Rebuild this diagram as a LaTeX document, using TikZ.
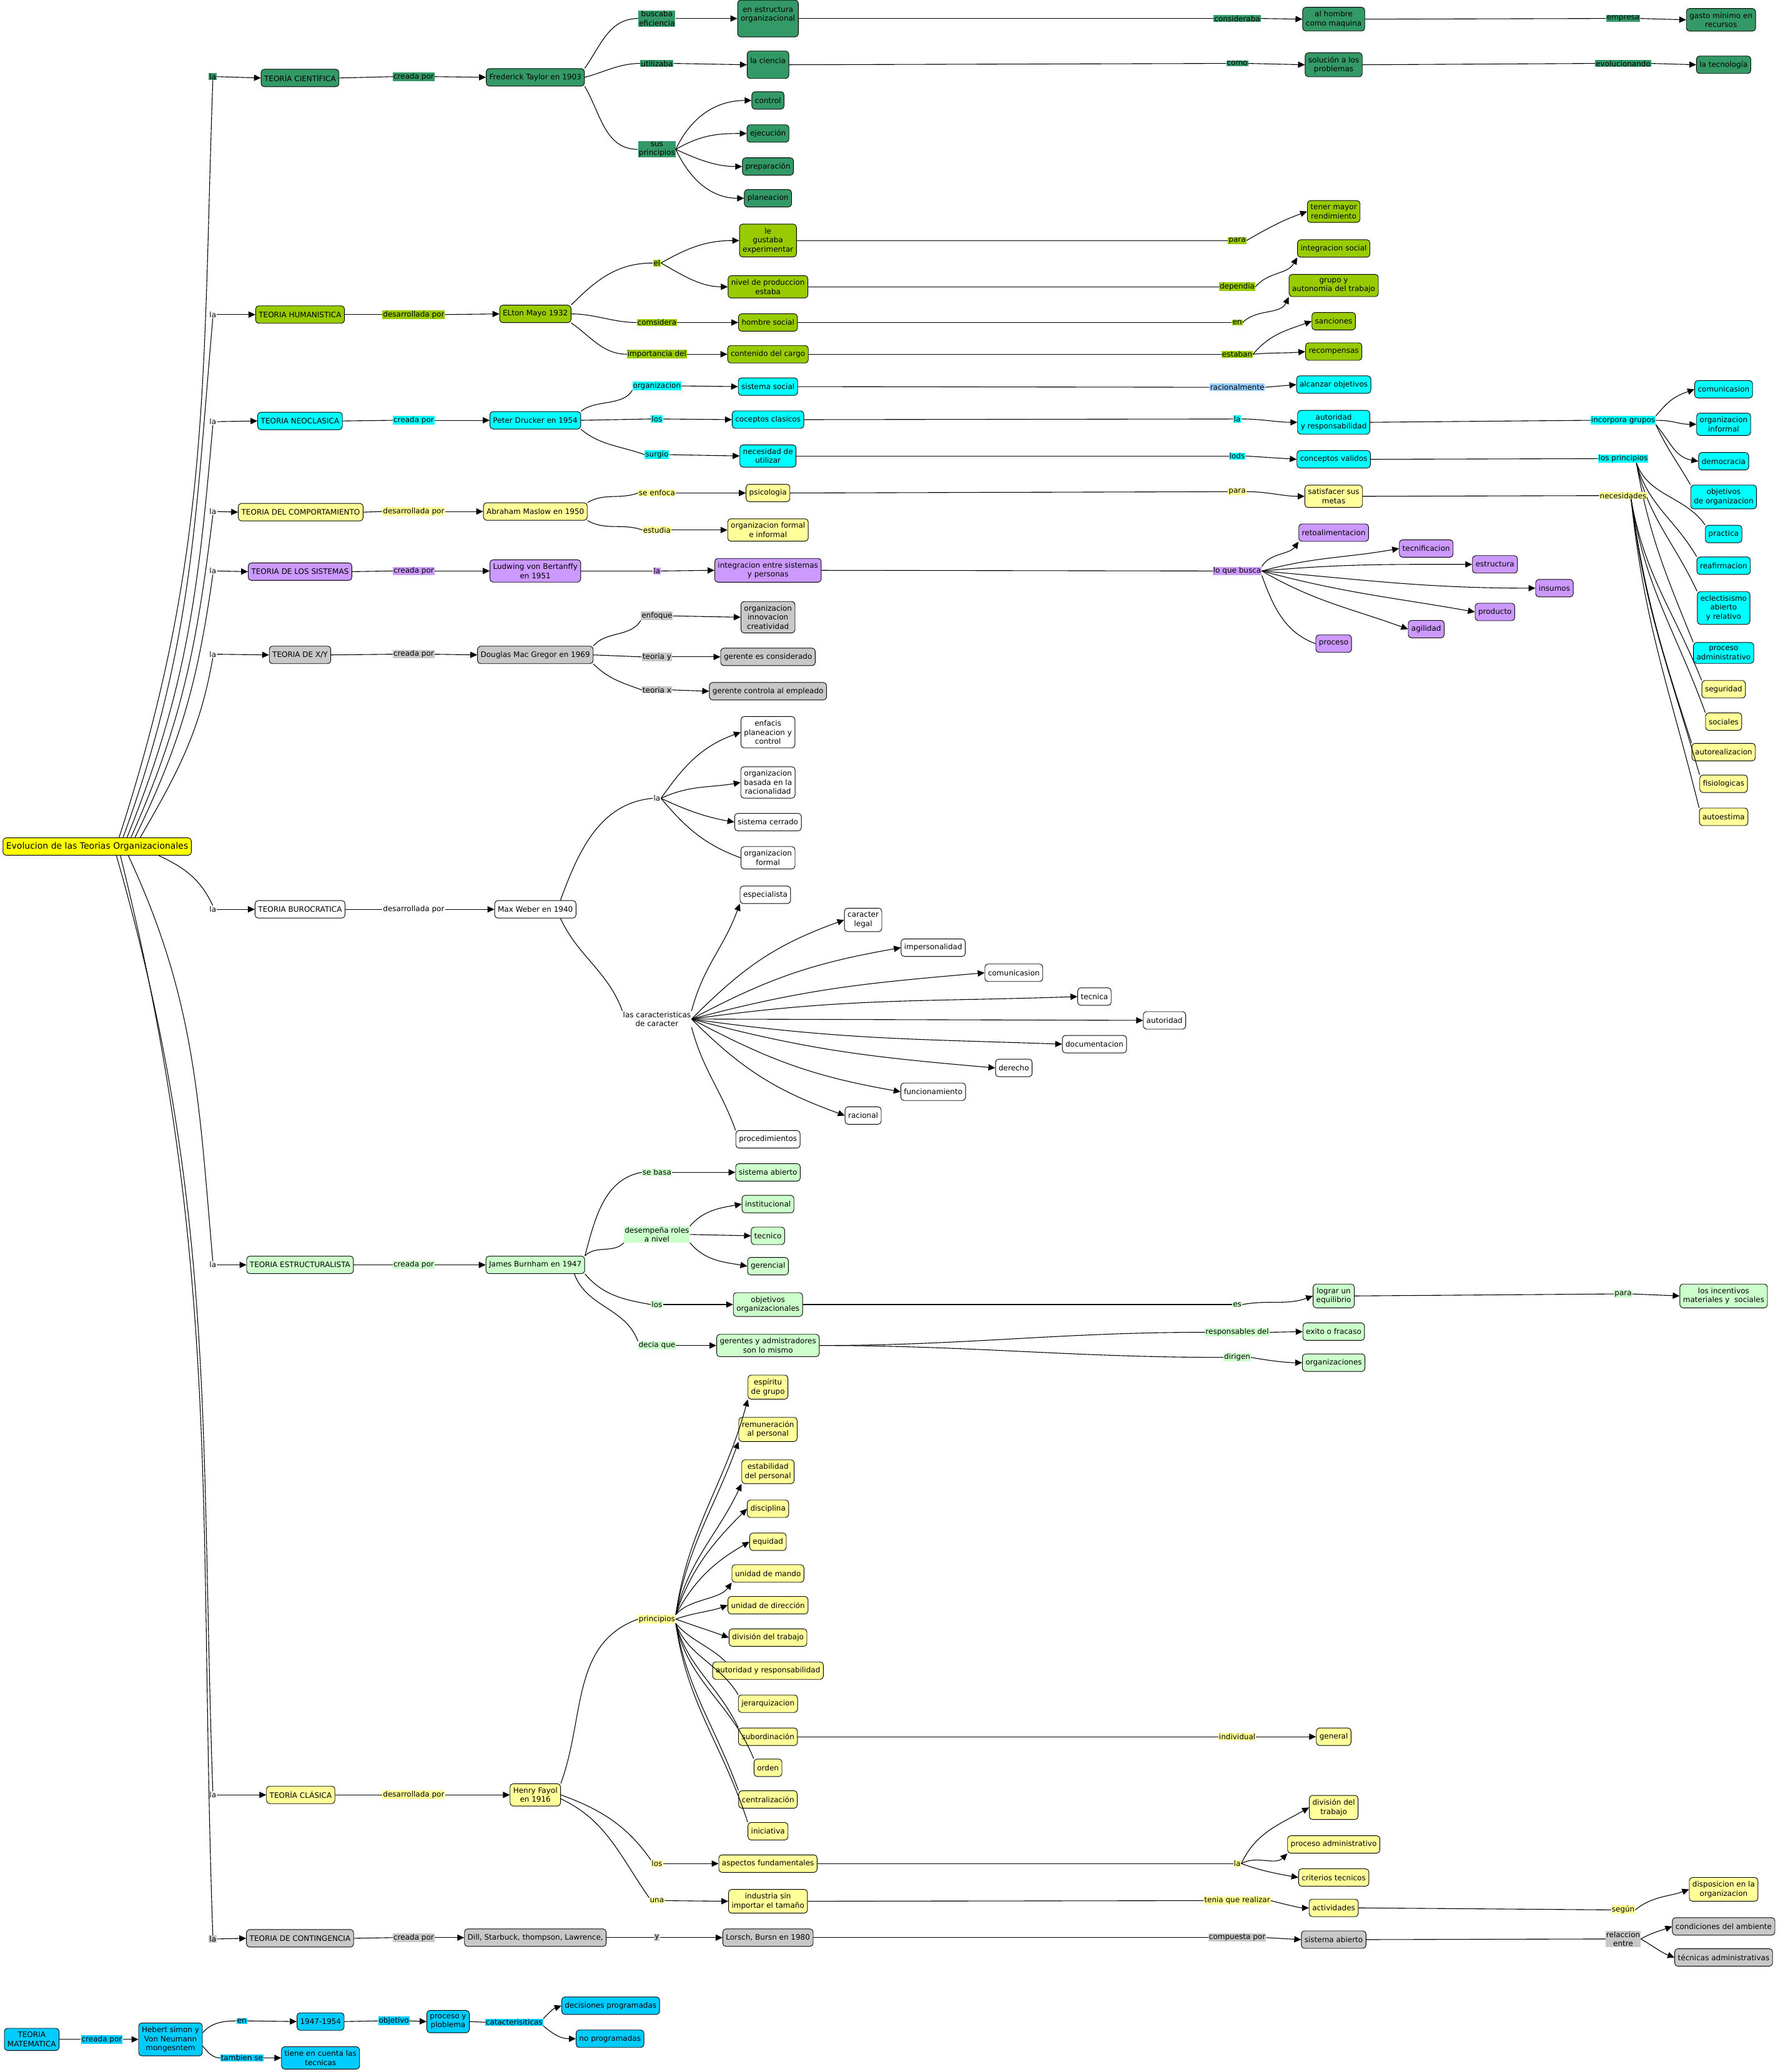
\documentclass[tikz,border=0pt]{standalone}
\usepackage{fontspec}
\setmainfont{DejaVu Sans}
\usetikzlibrary{arrows.meta,calc}
\definecolor{cG}{HTML}{339966}
\definecolor{cL}{HTML}{99CC00}
\definecolor{cC}{HTML}{00FFFF}
\definecolor{cY}{HTML}{FFFF99}
\definecolor{cP}{HTML}{CC99FF}
\definecolor{cGr}{HTML}{C8C8C8}
\definecolor{cLG}{HTML}{CCFFCC}
\definecolor{cRoot}{HTML}{FFFF00}
\definecolor{cB}{HTML}{00CCFF}
\definecolor{cLB}{HTML}{99CCFF}
\newcommand\mapfont{\fontsize{12}{14.5}\selectfont}
\newcommand\rootfont{\fontsize{14}{16}\selectfont}
\begin{document}
\begin{tikzpicture}[x=2.1165pt,y=2.1165pt,
  every node/.style={font=\mapfont},
  bx/.style={draw=black, line width=0.9pt, rounded corners=5pt, inner xsep=5pt, inner ysep=6pt, minimum height=28pt, align=center, fill=white},
  lb/.style={inner xsep=1pt, inner ysep=1pt, align=center},
  cn/.style={line width=1.1pt},
  ca/.style={line width=1.1pt, -{Triangle[length=11pt,width=10pt]}},
  cv/.style n args={3}{to path={.. controls +(#1:#3) and +(#2:#3) .. (\tikztotarget)}}]
\useasboundingbox (0,0) rectangle (1345.14,-1567.68);

% root
\node[bx,fill=cRoot,font=\rootfont] (root) at (73.5,-640.5) {Evolucion de las Teorias Organizacionales};

% ===== Cientifica
\node[lb,fill=cG] (la1) at (161,-58) {la};
\node[bx,fill=cG] (tc) at (227,-59) {TEORÍA CIENTÍFICA};
\node[lb,fill=cG] (tc1) at (313,-58) {creada por};
\node[bx,fill=cG] (ft) at (405,-58.5) {Frederick Taylor en 1903};
\node[lb,fill=cG] (tc2) at (497,-14) {buscaba\\eficiencia};
\node[bx,fill=cG,minimum height=59pt] (tc3) at (581,-14) {en estructura\\organizacional\\\mbox{}};
\node[lb,fill=cG] (tc4) at (497,-48) {utilizaba};
\node[bx,fill=cG,minimum height=44pt] (tc5) at (581,-49) {la ciencia\\\mbox{}};
\node[lb,fill=cG] (tc6) at (497,-113) {sus\\principios};
\node[bx,fill=cG] (tc7) at (581,-76) {control};
\node[bx,fill=cG] (tc8) at (581,-101) {ejecución};
\node[bx,fill=cG] (tc9) at (581,-126) {preparación};
\node[bx,fill=cG] (tc10) at (581,-150) {planeacion};
\node[lb,fill=cG] (tc11) at (936,-14) {consideraba};
\node[bx,fill=cG] (tc12) at (1009,-14.5) {al hombre\\como maquina};
\node[lb,fill=cG] (tc13) at (1228,-14) {empresa};
\node[bx,fill=cG] (tc14) at (1302,-15) {gasto mínimo en\\recursos};
\node[lb,fill=cG] (tc15) at (936,-48) {como};
\node[bx,fill=cG] (tc16) at (1009,-49) {solución a los\\problemas};
\node[lb,fill=cG] (tc17) at (1228,-48) {evolucionando};
\node[bx,fill=cG] (tc18) at (1304,-49) {la tecnología};

\draw[cn] ($(root.north west)+(88,0)$) to[cv={72}{-92}{226}] (la1.south);
\draw[ca] (la1.east) -- (tc.west);
\draw[cn] (tc.east) -- (tc1.west);
\draw[ca] (tc1.east) -- (ft.west);
\draw[cn] (ft.north east) to[cv={55}{180}{22}] (tc2.west);
\draw[cn] (ft.east) to[cv={15}{180}{16}] (tc4.west);
\draw[cn] (ft.south east) to[cv={-60}{180}{25}] (tc6.west);
\draw[ca] (tc2.east) -- (tc3.west);
\draw[ca] (tc4.east) -- (tc5.west);
\draw[ca] (tc6.east) to[cv={65}{180}{27}] (tc7.west);
\draw[ca] (tc6.east) to[cv={30}{180}{22}] (tc8.west);
\draw[ca] (tc6.east) to[cv={-25}{180}{19}] (tc9.west);
\draw[ca] (tc6.east) to[cv={-65}{180}{25}] (tc10.west);
\draw[cn] (tc3.east) -- (tc11.west);
\draw[ca] (tc11.east) -- (tc12.west);
\draw[cn] (tc12.east) -- (tc13.west);
\draw[ca] (tc13.east) -- (tc14.west);
\draw[cn] (tc5.east) -- (tc15.west);
\draw[ca] (tc15.east) -- (tc16.west);
\draw[cn] (tc16.east) -- (tc17.west);
\draw[ca] (tc17.east) -- (tc18.west);

% ===== Humanistica
\node[lb] (la2) at (161,-238) {la};
\node[bx,fill=cL] (th) at (227,-238) {TEORIA HUMANISTICA};
\node[lb,fill=cL] (th1) at (313,-238) {desarrollada por};
\node[bx,fill=cL] (em) at (405,-237.5) {ELton Mayo 1932};
\node[lb,fill=cL] (th2) at (497,-199) {el};
\node[bx,fill=cL] (th3) at (581,-182) {le\\gustaba\\experimentar};
\node[bx,fill=cL] (th4) at (581,-217) {nivel de produccion\\estaba};
\node[lb,fill=cL] (th5) at (497,-244) {comsidera};
\node[bx,fill=cL] (th6) at (581,-244) {hombre social};
\node[lb,fill=cL] (th7) at (497,-268) {importancia del};
\node[bx,fill=cL] (th8) at (581,-268) {contenido del cargo};
\node[lb,fill=cL] (th9) at (936,-182) {para};
\node[bx,fill=cL] (th10) at (1009,-160) {tener mayor\\rendimiento};
\node[lb,fill=cL] (th11) at (936,-217) {dependia};
\node[bx,fill=cL] (th12) at (1009,-188) {integracion social};
\node[lb,fill=cL] (th13) at (936,-244) {en};
\node[bx,fill=cL] (th14) at (1009,-216) {grupo y\\autonomia del trabajo};
\node[lb,fill=cL] (th15) at (936,-268) {estaban};
\node[bx,fill=cL] (th16) at (1009,-243) {sanciones};
\node[bx,fill=cL] (th17) at (1009,-266) {recompensas};

\draw[cn] ($(root.north west)+(91,0)$) to[cv={70}{-95}{154}] (la2.south);
\draw[ca] (la2.east) -- (th.west);
\draw[cn] (th.east) -- (th1.west);
\draw[ca] (th1.east) -- (em.west);
\draw[cn] (em.north east) to[cv={45}{180}{27}] (th2.west);
\draw[cn] (em.east) to[cv={0}{180}{18}] (th5.west);
\draw[cn] (em.south east) to[cv={-35}{180}{18}] (th7.west);
\draw[ca] (th2.east) to[cv={30}{180}{24}] (th3.west);
\draw[ca] (th2.east) to[cv={-30}{180}{20}] (th4.west);
\draw[ca] (th5.east) -- (th6.west);
\draw[ca] (th7.east) -- (th8.west);
\draw[cn] (th3.east) -- (th9.west);
\draw[ca] (th9.east) to[cv={30}{200}{20}] (th10.west);
\draw[cn] (th4.east) -- (th11.west);
\draw[ca] (th11.east) to[cv={50}{-120}{15}] (th12.south west);
\draw[cn] (th6.east) -- (th13.west);
\draw[ca] (th13.east) to[cv={45}{-115}{15}] (th14.south west);
\draw[cn] (th8.east) -- (th15.west);
\draw[ca] (th15.east) to[cv={50}{200}{20}] (th16.west);
\draw[ca] (th15.east) to[cv={5}{185}{16}] (th17.west);

% ===== Neoclasica
\node[lb] (la3) at (161,-319) {la};
\node[bx,fill=cC] (tn) at (227,-318.5) {TEORIA NEOCLASICA};
\node[lb,fill=cC] (tn1) at (313,-318) {creada por};
\node[bx,fill=cC] (pd) at (405,-318) {Peter Drucker en 1954};
\node[lb,fill=cC] (tn2) at (497,-292) {organizacion};
\node[bx,fill=cC] (tn3) at (581,-292.5) {sistema social};
\node[lb,fill=cC] (tn4) at (497,-317) {los};
\node[bx,fill=cC] (tn5) at (581,-317.5) {coceptos clasicos};
\node[lb,fill=cC] (tn6) at (497,-344) {surgio};
\node[bx,fill=cC] (tn7) at (581,-345) {necesidad de\\utilizar};
\node[lb,fill=cLB] (tn8) at (936,-293) {racionalmente};
\node[bx,fill=cC] (tn9) at (1009,-291) {alcanzar objetivos};
\node[lb,fill=cC] (tn10) at (936,-317) {la};
\node[bx,fill=cC] (tn11) at (1009,-319.5) {autoridad\\y responsabilidad};
\node[lb,fill=cC] (tn12) at (936,-345) {lods};
\node[bx,fill=cC] (tn13) at (1009,-347.5) {conceptos validos};
\node[lb,fill=cC] (tn14) at (1228,-318) {incorpora grupos};
\node[bx,fill=cC] (tn15) at (1304,-294.5) {comunicasion};
\node[bx,fill=cC] (tn16) at (1304,-321) {organizacion\\informal};
\node[bx,fill=cC] (tn17) at (1304,-349) {democracia};
\node[bx,fill=cC] (tn18) at (1304,-376) {objetivos\\de organizacion};
\node[lb,fill=cC] (tn19) at (1228,-347) {los principios};
\node[bx,fill=cC] (tn20) at (1304,-404) {practica};
\node[bx,fill=cC] (tn21) at (1304,-428) {reafirmacion};
\node[bx,fill=cC] (tn22) at (1304,-460) {eclectisismo\\abierto\\y relativo};
\node[bx,fill=cC] (tn23) at (1304,-494) {proceso\\administrativo};

\draw[cn] ($(root.north west)+(94,0)$) to[cv={68}{-95}{123}] (la3.south);
\draw[ca] (la3.east) -- (tn.west);
\draw[cn] (tn.east) -- (tn1.west);
\draw[ca] (tn1.east) -- (pd.west);
\draw[cn] (pd.north east) to[cv={40}{-120}{14}] (tn2.south west);
\draw[cn] (pd.east) -- (tn4.west);
\draw[cn] (pd.south east) to[cv={-40}{160}{19}] (tn6.west);
\draw[ca] (tn2.east) -- (tn3.west);
\draw[ca] (tn4.east) -- (tn5.west);
\draw[ca] (tn6.east) -- (tn7.west);
\draw[cn] (tn3.east) -- (tn8.west);
\draw[ca] (tn8.east) -- (tn9.west);
\draw[cn] (tn5.east) -- (tn10.west);
\draw[ca] (tn10.east) to[cv={0}{180}{16}] (tn11.west);
\draw[cn] (tn7.east) -- (tn12.west);
\draw[ca] (tn12.east) -- (tn13.west);
\draw[cn] (tn11.east) -- (tn14.west);
\draw[ca] (tn14.north east) to[cv={50}{200}{16}] (tn15.west);
\draw[ca] (tn14.east) to[cv={0}{180}{14}] (tn16.west);
\draw[ca] (tn14.south east) to[cv={-50}{170}{18}] (tn17.west);
\draw[cn] (tn14.south east) to[cv={-65}{120}{21}] (tn18.north west);
\draw[cn] (tn13.east) -- (tn19.west);
\draw[cn] ($(tn19.south)+(10,0)$) to[cv={-70}{125}{27}] (tn20.north west);
\draw[cn] ($(tn19.south)+(10,0)$) to[cv={-75}{120}{33}] (tn21.north west);
\draw[cn] ($(tn19.south)+(10,0)$) to[cv={-78}{115}{42}] (tn22.north west);
\draw[cn] ($(tn19.south)+(10,0)$) to[cv={-80}{112}{56}] (tn23.north west);

% ===== Comportamiento
\node[lb] (la4) at (161,-387) {la};
\node[bx,fill=cY] (tb) at (227.5,-387.5) {TEORIA DEL COMPORTAMIENTO};
\node[lb,fill=cY] (tb1) at (313,-387) {desarrollada por};
\node[bx,fill=cY] (am) at (405,-387) {Abraham Maslow en 1950};
\node[lb,fill=cY] (tb2) at (497,-373) {se enfoca};
\node[bx,fill=cY] (tb3) at (581,-373) {psicologia};
\node[lb,fill=cY] (tb4) at (497,-401) {estudia};
\node[bx,fill=cY] (tb5) at (581,-401) {organizacion formal\\e informal};
\node[lb,fill=cY] (tb6) at (936,-372) {para};
\node[bx,fill=cY] (tb7) at (1009,-375.5) {satisfacer sus\\metas};
\node[lb,fill=cY] (tb8) at (1228,-375) {necesidades};
\node[bx,fill=cY] (tb9) at (1304,-521.5) {seguridad};
\node[bx,fill=cY] (tb10) at (1304,-546) {sociales};
\node[bx,fill=cY] (tb11) at (1304,-569) {autorealizacion};
\node[bx,fill=cY] (tb12) at (1304,-593) {fisiologicas};
\node[bx,fill=cY] (tb13) at (1304,-618) {autoestima};

\draw[cn] ($(root.north west)+(97,0)$) to[cv={66}{-97}{97}] (la4.south);
\draw[ca] (la4.east) -- (tb.west);
\draw[cn] (tb.east) -- (tb1.west);
\draw[ca] (tb1.east) -- (am.west);
\draw[cn] (am.north east) to[cv={30}{200}{15}] (tb2.west);
\draw[cn] (am.south east) to[cv={-30}{160}{16}] (tb4.west);
\draw[ca] (tb2.east) -- (tb3.west);
\draw[ca] (tb4.east) -- (tb5.west);
\draw[cn] (tb3.east) -- (tb6.west);
\draw[ca] (tb6.east) to[cv={0}{180}{17}] (tb7.west);
\draw[cn] (tb7.east) -- (tb8.west);
\draw[cn] ($(tb8.south)+(6,0)$) to[cv={-80}{112}{58}] (tb9.north west);
\draw[cn] ($(tb8.south)+(6,0)$) to[cv={-81}{110}{68}] (tb10.north west);
\draw[cn] ($(tb8.south)+(6,0)$) to[cv={-82}{108}{75}] (tb11.north west);
\draw[cn] ($(tb8.south)+(6,0)$) to[cv={-83}{106}{85}] (tb12.north west);
\draw[cn] ($(tb8.south)+(6,0)$) to[cv={-84}{104}{95}] (tb13.north west);

% ===== Sistemas
\node[lb] (la5) at (161,-432) {la};
\node[bx,fill=cP] (ts) at (227,-432.5) {TEORIA DE LOS SISTEMAS};
\node[lb,fill=cP] (ts1) at (313,-432) {creada por};
\node[bx,fill=cP] (lv) at (405,-432) {Ludwing von Bertanffy\\en 1951};
\node[lb,fill=cP] (ts2) at (497,-432) {la};
\node[bx,fill=cP] (ts3) at (581,-431.5) {integracion entre sistemas\\y personas};
\node[lb,fill=cP] (ts4) at (936,-432) {lo que busca};
\node[bx,fill=cP] (ts5) at (1009,-403) {retoalimentacion};
\node[bx,fill=cP] (ts6) at (1079,-415) {tecnificacion};
\node[bx,fill=cP] (ts7) at (1131,-427) {estructura};
\node[bx,fill=cP] (ts8) at (1176,-445) {insumos};
\node[bx,fill=cP] (ts9) at (1131,-463) {producto};
\node[bx,fill=cP] (ts10) at (1079,-476) {agilidad};
\node[bx,fill=cP] (ts11) at (1009,-487) {proceso};

\draw[cn] ($(root.north west)+(100,0)$) to[cv={64}{-98}{80}] (la5.south);
\draw[ca] (la5.east) -- (ts.west);
\draw[cn] (ts.east) -- (ts1.west);
\draw[ca] (ts1.east) -- (lv.west);
\draw[cn] (lv.east) -- (ts2.west);
\draw[ca] (ts2.east) -- (ts3.west);
\draw[cn] (ts3.east) -- (ts4.west);
\draw[ca] (ts4.north east) to[cv={60}{-125}{12}] (ts5.south west);
\draw[ca] (ts4.east) to[cv={15}{190}{42}] (ts6.west);
\draw[ca] (ts4.east) to[cv={5}{180}{63}] (ts7.west);
\draw[ca] (ts4.east) to[cv={-5}{180}{82}] (ts8.west);
\draw[ca] (ts4.east) to[cv={-15}{170}{65}] (ts9.west);
\draw[ca] (ts4.east) to[cv={-30}{160}{47}] (ts10.west);
\draw[cn] (ts4.south east) to[cv={-70}{160}{25}] (ts11.west);

% ===== X/Y
\node[lb] (la6) at (161,-495) {la};
\node[bx,fill=cGr] (tx) at (227,-495.5) {TEORIA DE X/Y};
\node[lb,fill=cGr] (tx1) at (313,-495) {creada por};
\node[bx,fill=cGr] (dm) at (405,-495.5) {Douglas Mac Gregor en 1969};
\node[lb,fill=cGr] (tx2) at (497,-466) {enfoque};
\node[bx,fill=cGr] (tx3) at (581,-467) {organizacion\\innovacion\\creatividad};
\node[lb,fill=cGr] (tx4) at (497,-497) {teoria y};
\node[bx,fill=cGr] (tx5) at (581,-497) {gerente es considerado};
\node[lb,fill=cGr] (tx6) at (497,-522) {teoria x};
\node[bx,fill=cGr] (tx7) at (581,-523) {gerente controla al empleado};

\draw[cn] ($(root.north west)+(104,0)$) to[cv={60}{-100}{57}] (la6.south);
\draw[ca] (la6.east) -- (tx.west);
\draw[cn] (tx.east) -- (tx1.west);
\draw[ca] (tx1.east) -- (dm.west);
\draw[cn] (dm.north east) to[cv={50}{-120}{15}] (tx2.south west);
\draw[cn] (dm.east) -- (tx4.west);
\draw[cn] (dm.south east) to[cv={-45}{160}{16}] (tx6.west);
\draw[ca] (tx2.east) -- (tx3.west);
\draw[ca] (tx4.east) -- (tx5.west);
\draw[ca] (tx6.east) -- (tx7.west);

% ===== Burocratica
\node[lb] (la7) at (161,-688) {la};
\node[bx] (tu) at (227,-688) {TEORIA BUROCRATICA};
\node[lb] (tu1) at (313,-688) {desarrollada por};
\node[bx] (mw) at (405,-688) {Max Weber en 1940};
\node[lb] (tu2) at (497,-604) {la};
\node[bx] (tu3) at (581,-554) {enfacis\\planeacion y\\control};
\node[bx] (tu4) at (581,-592) {organizacion\\basada en la\\racionalidad};
\node[bx] (tu5) at (581,-622) {sistema cerrado};
\node[bx] (tu6) at (581,-649) {organizacion\\formal};
\node[lb] (tu7) at (497,-771) {las caracteristicas\\de caracter};
\node[bx] (tu8) at (579,-677) {especialista};
\node[bx] (tu9) at (653,-696) {caracter\\legal};
\node[bx] (tu10) at (706,-717) {impersonalidad};
\node[bx] (tu11) at (767,-736) {comunicasion};
\node[bx] (tu12) at (828,-754) {tecnica};
\node[bx] (tu13) at (881,-772) {autoridad};
\node[bx] (tu14) at (828,-790) {documentacion};
\node[bx] (tu15) at (767,-808) {derecho};
\node[bx] (tu16) at (706,-826) {funcionamiento};
\node[bx] (tu17) at (653,-844) {racional};
\node[bx] (tu18) at (581,-862) {procedimientos};

\draw[cn] ($(root.south west)+(118,0)$) to[cv={-25}{115}{22}] (la7.north);
\draw[ca] (la7.east) -- (tu.west);
\draw[cn] (tu.east) -- (tu1.west);
\draw[ca] (tu1.east) -- (mw.west);
\draw[cn] ($(mw.north east)+(-12,0)$) to[cv={70}{185}{40}] (tu2.west);
\draw[cn] ($(mw.south east)+(-12,0)$) to[cv={-65}{110}{32}] (tu7.north west);
\draw[ca] (tu2.east) to[cv={55}{200}{31}] (tu3.west);
\draw[ca] (tu2.east) to[cv={25}{190}{24}] (tu4.west);
\draw[ca] (tu2.east) to[cv={-25}{170}{22}] (tu5.west);
\draw[cn] (tu2.east) to[cv={-50}{160}{29}] (tu6.west);
\draw[ca] (tu7.north east) to[cv={75}{-110}{36}] (tu8.south west);
\draw[ca] (tu7.east) to[cv={45}{200}{56}] (tu9.west);
\draw[ca] (tu7.east) to[cv={28}{190}{67}] (tu10.west);
\draw[ca] (tu7.east) to[cv={15}{185}{90}] (tu11.west);
\draw[ca] (tu7.east) to[cv={8}{182}{117}] (tu12.west);
\draw[ca] (tu7.east) -- (tu13.west);
\draw[ca] (tu7.east) to[cv={-8}{178}{112}] (tu14.west);
\draw[ca] (tu7.east) to[cv={-15}{175}{93}] (tu15.west);
\draw[ca] (tu7.east) to[cv={-28}{170}{67}] (tu16.west);
\draw[ca] (tu7.east) to[cv={-45}{160}{55}] (tu17.west);
\draw[cn] (tu7.south east) to[cv={-75}{110}{34}] (tu18.north west);

% ===== Estructuralista
\node[lb] (la8) at (161,-957) {la};
\node[bx,fill=cLG] (te) at (227,-957) {TEORIA ESTRUCTURALISTA};
\node[lb,fill=cLG] (te1) at (313,-957) {creada por};
\node[bx,fill=cLG] (jb) at (405,-957) {James Burnham en 1947};
\node[lb,fill=cLG] (te2) at (497,-887) {se basa};
\node[bx,fill=cLG] (te3) at (581,-887) {sistema abierto};
\node[lb,fill=cLG] (te4) at (497,-934) {desempeña roles\\a nivel};
\node[bx,fill=cLG] (te5) at (581,-911) {institucional};
\node[bx,fill=cLG] (te6) at (581,-935) {tecnico};
\node[bx,fill=cLG] (te7) at (581,-958) {gerencial};
\node[lb,fill=cLG] (te8) at (497,-987) {los};
\node[bx,fill=cLG] (te9) at (581,-987) {objetivos\\organizacionales};
\node[lb,fill=cLG] (te10) at (497,-1018) {decia que};
\node[bx,fill=cLG] (te11) at (581,-1018) {gerentes y admistradores\\son lo mismo};
\node[lb,fill=cLG] (te12) at (936,-987) {es};
\node[bx,fill=cLG] (te13) at (1009,-980.5) {lograr un\\equilibrio};
\node[lb,fill=cLG] (te14) at (1228,-979) {para};
\node[bx,fill=cLG] (te15) at (1304,-980.5) {los incentivos\\materiales y\ \ sociales};
\node[lb,fill=cLG] (te16) at (936,-1008) {responsables del};
\node[bx,fill=cLG] (te17) at (1009,-1007.5) {exito o fracaso};
\node[lb,fill=cLG] (te18) at (936,-1027) {dirigen};
\node[bx,fill=cLG] (te19) at (1009,-1031) {organizaciones};

\draw[cn] ($(root.south west)+(95,0)$) to[cv={-65}{95}{121}] (la8.north);
\draw[ca] (la8.east) -- (te.west);
\draw[cn] (te.east) -- (te1.west);
\draw[ca] (te1.east) -- (jb.west);
\draw[cn] (jb.north east) to[cv={75}{190}{29}] (te2.west);
\draw[cn] (jb.north east) to[cv={45}{-135}{12}] (te4.south west);
\draw[cn] (jb.south east) to[cv={-50}{170}{21}] (te8.west);
\draw[cn] ($(jb.south east)+(-8,0)$) to[cv={-70}{110}{27}] (te10.north west);
\draw[ca] (te2.east) -- (te3.west);
\draw[ca] (te4.north east) to[cv={50}{190}{16}] (te5.west);
\draw[ca] (te4.east) -- (te6.west);
\draw[ca] (te4.south east) to[cv={-50}{170}{18}] (te7.west);
\draw[ca] (te8.east) -- (te9.west);
\draw[ca] (te10.east) -- (te11.west);
\draw[cn] (te9.east) -- (te12.west);
\draw[ca] (te12.east) to[cv={10}{200}{21}] (te13.west);
\draw[cn] (te13.east) -- (te14.west);
\draw[ca] (te14.east) -- (te15.west);
\draw[cn] (te11.east) to[cv={0}{180}{110}] (te16.west);
\draw[cn] (te11.east) to[cv={0}{180}{115}] (te18.west);
\draw[ca] (te16.east) -- (te17.west);
\draw[ca] (te18.east) to[cv={-10}{180}{13}] (te19.west);

% ===== Clasica
\node[lb] (la9) at (161,-1358) {la};
\node[bx,fill=cY] (tk) at (227.5,-1358) {TEORÍA CLÁSICA};
\node[lb,fill=cY] (tk1) at (313,-1358) {desarrollada por};
\node[bx,fill=cY] (hf) at (405,-1358) {Henry Fayol\\en 1916};
\node[lb,fill=cY] (tk2) at (497,-1225) {principios};
\node[bx,fill=cY] (p1) at (581,-1049.5) {espíritu\\de grupo};
\node[bx,fill=cY] (p2) at (581,-1081.5) {remuneración\\al personal};
\node[bx,fill=cY] (p3) at (581,-1113.5) {estabilidad\\del personal};
\node[bx,fill=cY] (p4) at (581,-1141.5) {disciplina};
\node[bx,fill=cY] (p5) at (581,-1166.5) {equidad};
\node[bx,fill=cY] (p6) at (581,-1190.5) {unidad de mando};
\node[bx,fill=cY] (p7) at (581,-1214.5) {unidad de dirección};
\node[bx,fill=cY] (p8) at (581,-1239) {división del trabajo};
\node[bx,fill=cY] (p9) at (581,-1264) {autoridad y responsabilidad};
\node[bx,fill=cY] (p10) at (581,-1289) {jerarquizacion};
\node[bx,fill=cY] (p11) at (581,-1314) {subordinación};
\node[bx,fill=cY] (p12) at (581,-1337.5) {orden};
\node[bx,fill=cY] (p13) at (581,-1361.5) {centralización};
\node[bx,fill=cY] (p14) at (581,-1385.5) {iniciativa};
\node[lb,fill=cY] (tk3) at (936,-1314) {individual};
\node[bx,fill=cY] (tk4) at (1009,-1314) {general};
\node[lb,fill=cY] (tk5) at (497,-1410) {los};
\node[bx,fill=cY] (tk6) at (581,-1410) {aspectos fundamentales};
\node[lb,fill=cY] (tk7) at (497,-1438) {una};
\node[bx,fill=cY] (tk8) at (581,-1438.5) {industria sin\\importar el tamaño};
\node[lb,fill=cY] (tk9) at (936,-1410) {la};
\node[bx,fill=cY] (tk10) at (1009,-1367.5) {división del\\trabajo};
\node[bx,fill=cY] (tk11) at (1009,-1395.5) {proceso administrativo};
\node[bx,fill=cY] (tk12) at (1009,-1420.5) {criterios tecnicos};
\node[lb,fill=cY] (tk13) at (936,-1438) {tenia que realizar};
\node[bx,fill=cY] (tk14) at (1009,-1443.5) {actividades};
\node[lb,fill=cY] (tk15) at (1228,-1445) {según};
\node[bx,fill=cY] (tk16) at (1304,-1429.5) {disposicion en la\\organizacion};

\draw[cn] ($(root.south west)+(86,0)$) to[cv={-74}{92}{276}] (la9.north);
\draw[ca] (la9.east) -- (tk.west);
\draw[cn] (tk.east) -- (tk1.west);
\draw[ca] (tk1.east) -- (hf.west);
\draw[cn] (hf.north east) to[cv={70}{200}{54}] (tk2.west);
\draw[cn] (hf.east) to[cv={-20}{125}{32}] (tk5.north west);
\draw[cn] ($(hf.east)+(0,-3)$) to[cv={-25}{125}{38}] (tk7.north west);
\draw[ca] (tk2.north east) to[cv={82}{-105}{66}] (p1.south west);
\draw[ca] (tk2.north east) to[cv={80}{-110}{53}] (p2.south west);
\draw[ca] (tk2.north east) to[cv={77}{-115}{42}] (p3.south west);
\draw[ca] (tk2.north east) to[cv={72}{-135}{36}] (p4.west);
\draw[ca] (tk2.north east) to[cv={62}{-150}{30}] (p5.west);
\draw[ca] (tk2.north east) to[cv={50}{-125}{16}] (p6.south west);
\draw[ca] (tk2.east) to[cv={20}{200}{13}] (p7.west);
\draw[ca] (tk2.east) to[cv={-20}{160}{14}] (p8.west);
\draw[cn] (tk2.south east) to[cv={-50}{135}{16}] ($(p9.north west)+(10,0)$);
\draw[cn] (tk2.south east) to[cv={-70}{120}{26}] (p10.north west);
\draw[cn] (tk2.south east) to[cv={-75}{115}{34}] (p11.north west);
\draw[cn] (tk2.south east) to[cv={-78}{112}{45}] (p12.north west);
\draw[cn] (tk2.south east) to[cv={-80}{110}{52}] (p13.north west);
\draw[cn] (tk2.south east) to[cv={-82}{108}{62}] (p14.north west);
\draw[cn] (p11.east) -- (tk3.west);
\draw[ca] (tk3.east) -- (tk4.west);
\draw[ca] (tk5.east) -- (tk6.west);
\draw[ca] (tk7.east) -- (tk8.west);
\draw[cn] (tk6.east) -- (tk9.west);
\draw[ca] (tk9.east) to[cv={65}{-150}{26}] (tk10.west);
\draw[ca] (tk9.east) to[cv={30}{-135}{13}] (tk11.south west);
\draw[ca] (tk9.east) to[cv={-20}{170}{16}] (tk12.west);
\draw[cn] (tk8.east) -- (tk13.west);
\draw[ca] (tk13.east) to[cv={-15}{180}{7}] (tk14.west);
\draw[cn] (tk14.east) -- (tk15.west);
\draw[ca] (tk15.east) to[cv={40}{200}{16}] (tk16.west);

% ===== Contingencia
\node[lb,fill=cGr] (la10) at (161,-1467) {la};
\node[bx,fill=cGr] (tg) at (227,-1466.5) {TEORIA DE CONTINGENCIA};
\node[lb,fill=cGr] (tg1) at (313,-1466) {creada por};
\node[bx,fill=cGr] (ds) at (405,-1466) {Dill, Starbuck, thompson, Lawrence,};
\node[lb,fill=cGr] (tg2) at (497,-1466) {y};
\node[bx,fill=cGr] (tg3) at (581,-1466) {Lorsch, Bursn en 1980};
\node[lb,fill=cGr] (tg4) at (936,-1466) {compuesta por};
\node[bx,fill=cGr] (tg5) at (1009,-1467.5) {sistema abierto};
\node[lb,fill=cGr] (tg6) at (1228,-1467) {relaccion\\entre};
\node[bx,fill=cGr] (tg7) at (1304,-1457.5) {condiciones del ambiente};
\node[bx,fill=cGr] (tg8) at (1304,-1481) {técnicas administrativas};

\draw[cn] ($(root.south west)+(89,0)$) to[cv={-76}{92}{319}] (la10.north);
\draw[ca] (la10.east) -- (tg.west);
\draw[cn] (tg.east) -- (tg1.west);
\draw[ca] (tg1.east) -- (ds.west);
\draw[cn] (ds.east) -- (tg2.west);
\draw[ca] (tg2.east) -- (tg3.west);
\draw[cn] (tg3.east) -- (tg4.west);
\draw[ca] (tg4.east) -- (tg5.west);
\draw[cn] (tg5.east) -- (tg6.west);
\draw[ca] (tg6.east) to[cv={30}{200}{9}] (tg7.west);
\draw[ca] (tg6.east) to[cv={-30}{160}{10}] (tg8.west);

% ===== Matematica
\node[bx,fill=cB] (tm) at (24,-1543) {TEORIA\\MATEMATICA};
\node[lb,fill=cB] (tm1) at (77,-1543) {creada por};
\node[bx,fill=cB] (hs) at (129,-1543) {Hebert simon y\\Von Neumann\\mongesntem};
\node[lb,fill=cB] (tm2) at (183,-1529) {en};
\node[bx,fill=cB] (tm3) at (242.5,-1529.5) {1947-1954};
\node[lb,fill=cB] (tm4) at (298,-1529) {objetivo};
\node[bx,fill=cB] (tm5) at (339,-1529.5) {proceso y\\ploblema};
\node[lb,fill=cB] (tm6) at (389,-1530) {catacterisiticas};
\node[bx,fill=cB] (tm7) at (462,-1517.5) {decisiones programadas};
\node[bx,fill=cB] (tm8) at (461.5,-1542.5) {no programadas};
\node[lb,fill=cB] (tm9) at (183,-1557) {tambien se};
\node[bx,fill=cB] (tm10) at (242.5,-1557) {tiene en cuenta las\\tecnicas};

\draw[cn] (tm.east) -- (tm1.west);
\draw[ca] (tm1.east) -- (hs.west);
\draw[cn] ($(hs.east)+(0,5)$) to[cv={50}{180}{10}] (tm2.west);
\draw[ca] (tm2.east) -- (tm3.west);
\draw[cn] (tm3.east) -- (tm4.west);
\draw[ca] (tm4.east) -- (tm5.west);
\draw[cn] (tm5.east) -- (tm6.west);
\draw[ca] (tm6.north east) to[cv={45}{200}{7}] (tm7.west);
\draw[ca] (tm6.south east) to[cv={-40}{180}{11}] (tm8.west);
\draw[cn] ($(hs.east)+(0,-5)$) to[cv={-50}{180}{6}] (tm9.west);
\draw[ca] (tm9.east) -- (tm10.west);
\end{tikzpicture}
\end{document}
